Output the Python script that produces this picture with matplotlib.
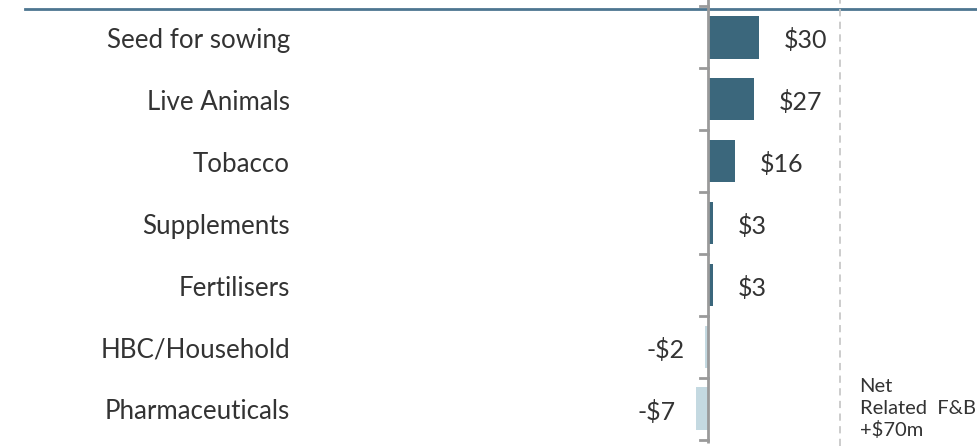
import matplotlib.pyplot as plt
from matplotlib.transforms import blended_transform_factory

# Net change by category ($m)
categories = ['Seed for sowing', 'Live Animals', 'Tobacco', 'Supplements',
              'Fertilisers', 'HBC/Household', 'Pharmaceuticals']
values = [30, 27, 16, 3, 3, -2, -7]
value_labels = ['$30', '$27', '$16', '$3', '$3', '-$2', '-$7']
net_note = 'Net\nRelated  F&B\n+$70m'

pos_color = '#3b677c'
neg_color = '#c4d9e1'
text_color = '#333333'
axis_color = '#9a9a9a'
ref_x = 77.6

plt.rcParams['font.family'] = ['Lato', 'DejaVu Sans']

fig = plt.figure(figsize=(9.77, 4.46), dpi=100)
ax = fig.add_axes([0, 0, 1, 1])
ax.set_xlim(-416.5, 158.2)
ax.set_ylim(6.6, -0.6)
ax.axis('off')

y = list(range(len(categories)))
colors = [pos_color if v >= 0 else neg_color for v in values]
ax.barh(y, values, height=0.69, color=colors, zorder=2)

# value labels beside each bar
for yi, v, lab in zip(y, values, value_labels):
    if v >= 0:
        ax.text(v + 14.5, yi + 0.05, lab, ha='left', va='center', fontsize=18,
                color=text_color)
    else:
        ax.text(v - 12, yi + 0.05, lab, ha='right', va='center', fontsize=18,
                color=text_color)

# category names on the left
tr = blended_transform_factory(ax.transAxes, ax.transData)
for yi, name in zip(y, categories):
    ax.text(290 / 977, yi + 0.05, name, transform=tr, ha='right', va='center',
            fontsize=18.6, color=text_color)

# zero axis with ticks between categories
ax.plot([0, 0], [-0.7, len(categories) - 0.45], color=axis_color, lw=2,
        zorder=3, solid_capstyle='butt')
for b in range(len(categories) + 1):
    ax.plot([-4.7, 0], [b - 0.5, b - 0.5], color=axis_color, lw=2, zorder=3)

# top rule
ax.plot([25 / 977, 1], [0.98, 0.98], transform=ax.transAxes,
        color='#4d7690', lw=2, zorder=1)

# reference line and note
ax.axvline(ref_x, color='#c8c8c8', lw=1.3, ls=(0, (4, 3)), zorder=1)
ax.text(ref_x + 11.5, 6.0, net_note, ha='left', va='center', fontsize=14.5,
        color=text_color, linespacing=1.3)

fig.savefig('out.png', dpi=100)
